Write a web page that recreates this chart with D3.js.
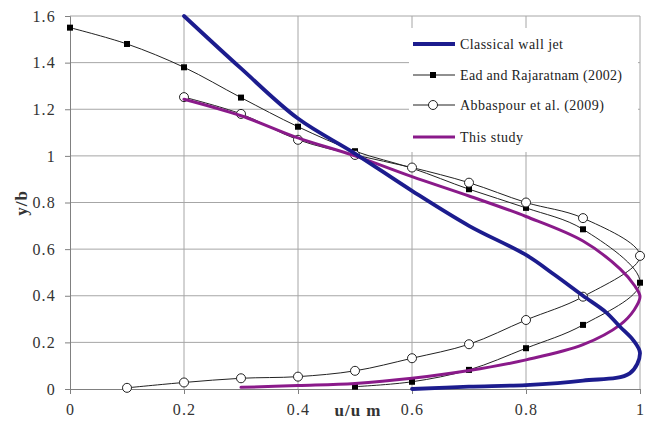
<!DOCTYPE html>
<html>
<head>
<meta charset="utf-8">
<script src="https://cdn.jsdelivr.net/npm/d3@7"></script>
<style>
  html, body { margin: 0; padding: 0; background: #fff; }
  svg { display: block; }
</style>
</head>
<body>
<svg id="chart" width="646" height="425"></svg>
<script>
// Velocity profiles: y/b against u/um
const xTicks = [0, 0.2, 0.4, 0.6, 0.8, 1];
const yTicks = [0, 0.2, 0.4, 0.6, 0.8, 1, 1.2, 1.4, 1.6];

// Classical wall jet (theoretical profile)
const classicalU = [0.2, 0.3, 0.4, 0.5, 0.6, 0.7, 0.8, 0.85, 0.9, 0.94, 0.965, 0.988, 1.0, 0.982, 0.9, 0.8, 0.7, 0.6];
const classicalY = [1.6, 1.375, 1.16, 1.01, 0.85, 0.70, 0.575, 0.49, 0.40, 0.33, 0.267, 0.21, 0.153, 0.067, 0.036, 0.017, 0.01, 0.0];

// Ead and Rajaratnam (2002)
const eadU = [0, 0.1, 0.2, 0.3, 0.4, 0.5, 0.6, 0.7, 0.8, 0.9, 1.0, 0.9, 0.8, 0.7, 0.6, 0.5];
const eadY = [1.55, 1.48, 1.38, 1.25, 1.125, 1.02, 0.947, 0.857, 0.777, 0.685, 0.456, 0.275, 0.175, 0.082, 0.031, 0.01];

// Abbaspour et al. (2009)
const abbU = [0.2, 0.3, 0.4, 0.5, 0.6, 0.7, 0.8, 0.9, 1.0, 0.9, 0.8, 0.7, 0.6, 0.5, 0.4, 0.3, 0.2, 0.1];
const abbY = [1.252, 1.18, 1.069, 1.004, 0.95, 0.885, 0.80, 0.733, 0.571, 0.396, 0.296, 0.192, 0.132, 0.078, 0.053, 0.046, 0.028, 0.005];

// This study
const studyU = [0.2, 0.3, 0.4, 0.5, 0.6, 0.7, 0.8, 0.9, 0.965, 0.99, 1.0, 0.99, 0.965, 0.9, 0.8, 0.7, 0.6, 0.5, 0.4, 0.3];
const studyY = [1.243, 1.172, 1.077, 1.0, 0.911, 0.828, 0.74, 0.635, 0.515, 0.445, 0.396, 0.34, 0.275, 0.19, 0.125, 0.079, 0.046, 0.024, 0.015, 0.007];

const svg = d3.select("#chart");
const margin = { left: 70, right: 6, top: 16, bottom: 36 };
const W = 646, H = 425;

const x = d3.scaleLinear().domain([0, 1]).range([margin.left, W - margin.right]);
const y = d3.scaleLinear().domain([0, 1.6]).range([H - margin.bottom, margin.top]);

const gridColor = "#a6a6a6";
const textColor = "#333";
const serif = '"Liberation Serif", "Times New Roman", serif';

// Grid lines
svg.append("g").selectAll("line").data(xTicks.slice(1)).join("line")
  .attr("x1", d => x(d)).attr("x2", d => x(d))
  .attr("y1", y(0)).attr("y2", y(1.6))
  .attr("stroke", gridColor).attr("stroke-width", 1);
svg.append("g").selectAll("line").data(yTicks.slice(1)).join("line")
  .attr("x1", x(0)).attr("x2", x(1))
  .attr("y1", d => y(d)).attr("y2", d => y(d))
  .attr("stroke", gridColor).attr("stroke-width", 1);

// Axes
const xAxis = svg.append("g")
  .attr("transform", `translate(0,${y(0)})`)
  .call(d3.axisBottom(x).tickValues(xTicks).tickFormat(d3.format("")).tickSize(5).tickPadding(10));
const yAxis = svg.append("g")
  .attr("transform", `translate(${x(0)},0)`)
  .call(d3.axisLeft(y).tickValues(yTicks).tickFormat(d3.format("")).tickSize(5).tickPadding(9));
[xAxis, yAxis].forEach(a => {
  a.select(".domain").attr("stroke", "#808080");
  a.selectAll(".tick line").attr("stroke", "#808080");
  a.selectAll("text")
    .style("font-family", serif)
    .attr("font-size", 16)
    .attr("letter-spacing", "1.2px")
    .attr("fill", textColor);
});

// Axis titles
svg.append("text")
  .attr("x", 358).attr("y", 416)
  .attr("text-anchor", "middle")
  .style("font-family", serif)
  .attr("font-size", 17).attr("font-weight", "bold").attr("fill", textColor)
  .attr("letter-spacing", "1px")
  .text("u/u m");
svg.append("text")
  .attr("transform", `translate(27,203) rotate(-90)`)
  .attr("text-anchor", "middle")
  .style("font-family", serif)
  .attr("font-size", 17).attr("font-weight", "bold").attr("fill", textColor)
  .attr("letter-spacing", "1px")
  .text("y/b");

const toPts = (us, ys) => us.map((u, i) => [u, ys[i]]);
const line = d3.line().x(d => x(d[0])).y(d => y(d[1])).curve(d3.curveCatmullRom.alpha(0.5));

const navy = "#1c1c8e";
const purple = "#8a1a8a";

const series = [
  { name: "Classical wall jet", pts: toPts(classicalU, classicalY), color: navy, width: 3.8, marker: "none", textW: 103 },
  { name: "Ead and Rajaratnam (2002)", pts: toPts(eadU, eadY), color: "#222", width: 1, marker: "square", textW: 162 },
  { name: "Abbaspour et al. (2009)", pts: toPts(abbU, abbY), color: "#222", width: 1, marker: "circle", textW: 144 },
  { name: "This study", pts: toPts(studyU, studyY), color: purple, width: 3, marker: "none", textW: 63 }
];

// Thin series first, thick profiles on top
const drawOrder = [1, 2, 3, 0];
drawOrder.forEach(i => {
  const s = series[i];
  svg.append("path").datum(s.pts)
    .attr("d", line)
    .attr("fill", "none")
    .attr("stroke", s.color)
    .attr("stroke-width", s.width)
    .attr("stroke-linejoin", "round")
    .attr("stroke-linecap", "round");
  if (s.marker === "square") {
    svg.append("g").selectAll("rect").data(s.pts).join("rect")
      .attr("x", d => x(d[0]) - 3).attr("y", d => y(d[1]) - 3)
      .attr("width", 6).attr("height", 6)
      .attr("fill", "#000");
  } else if (s.marker === "circle") {
    svg.append("g").selectAll("circle").data(s.pts).join("circle")
      .attr("cx", d => x(d[0])).attr("cy", d => y(d[1]))
      .attr("r", 4.5)
      .attr("fill", "#fff").attr("stroke", "#222").attr("stroke-width", 1);
  }
});

// Legend
const legend = svg.append("g");
legend.append("rect")
  .attr("x", 409).attr("y", 28).attr("width", 229).attr("height", 124)
  .attr("fill", "#fff");
const rowY = [44, 75, 105, 137];
series.forEach((s, i) => {
  const g = legend.append("g").attr("transform", `translate(0,${rowY[i]})`);
  g.append("line")
    .attr("x1", 413).attr("x2", 455).attr("y1", 0).attr("y2", 0)
    .attr("stroke", s.color).attr("stroke-width", s.width === 1 ? 1.2 : s.width);
  if (s.marker === "square") {
    g.append("rect").attr("x", 430).attr("y", -3).attr("width", 6).attr("height", 6).attr("fill", "#000");
  } else if (s.marker === "circle") {
    g.append("circle").attr("cx", 433).attr("cy", 0).attr("r", 4.5)
      .attr("fill", "#fff").attr("stroke", "#222");
  }
  g.append("text")
    .attr("x", 460).attr("y", 0).attr("dy", "0.35em")
    .style("font-family", serif)
    .attr("font-size", 14).attr("fill", "#222")
    .attr("textLength", s.textW).attr("lengthAdjust", "spacing")
    .text(s.name);
});
</script>
</body>
</html>
